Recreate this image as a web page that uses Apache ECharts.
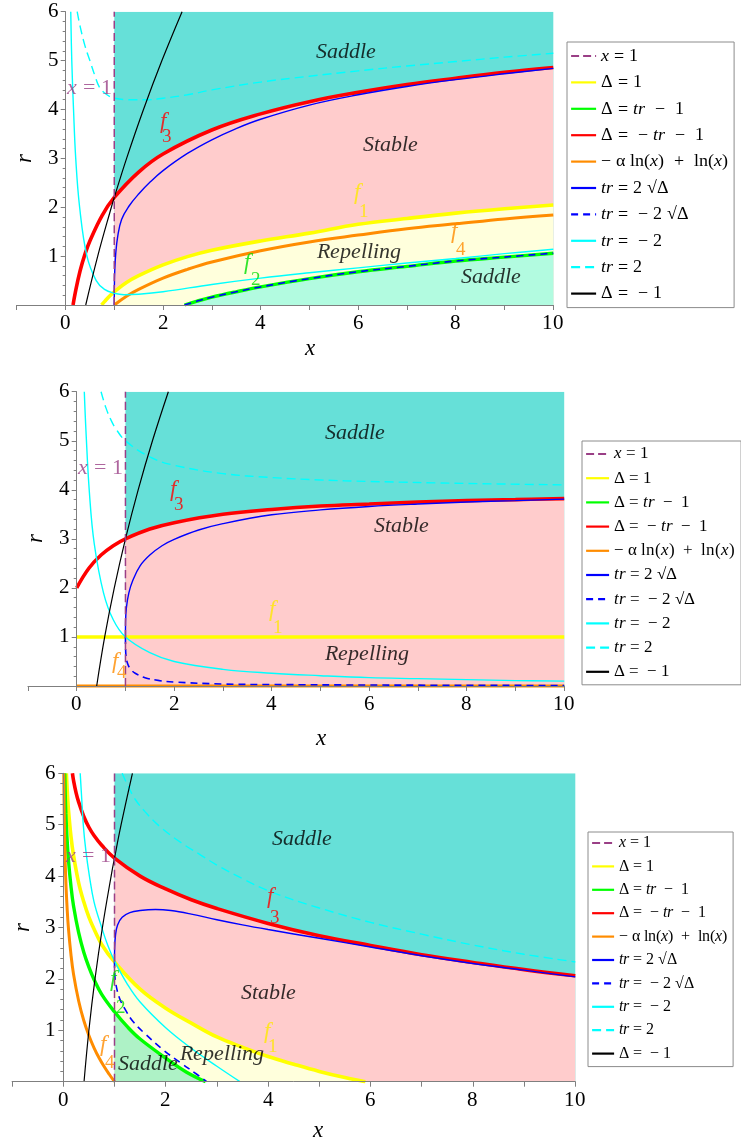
<!DOCTYPE html>
<html>
<head>
<meta charset="utf-8">
<script src="https://cdn.jsdelivr.net/npm/echarts@6/dist/echarts.min.js"></script>
<style>
  @font-face { font-family: 'PlotSerif'; font-style: normal; font-weight: normal;
               src: local('Liberation Serif'), local('LiberationSerif'), local('Times New Roman'), local('DejaVu Serif'); }
  @font-face { font-family: 'PlotSerif'; font-style: italic; font-weight: normal;
               src: local('Liberation Serif Italic'), local('LiberationSerif-Italic'), local('Times New Roman Italic'), local('DejaVu Serif Italic'); }
  html, body { margin: 0; padding: 0; background: #ffffff; }
  #chart { width: 741px; height: 1141px; }
</style>
</head>
<body>
<div id="chart"></div>
<script>
// ---------- tick labels ----------
const xTickLabels = ['0', '2', '4', '6', '8', '10'];
const yTickLabels = ['1', '2', '3', '4', '5', '6'];

// ---------- legend entries ----------
const legendNames = [
  'x = 1', 'Δ = 1', 'Δ = tr − 1', 'Δ = −tr − 1', '−α ln(x) + ln(x)',
  'tr = 2 √Δ', 'tr = −2 √Δ', 'tr = −2', 'tr = 2', 'Δ = −1'
];

// ---------- panel 1 (α = 0.2): curves as [x, r] ----------
const p1Line1   = [[1, 0], [1, 6]];
const p1Yellow  = [[0.74, 0], [0.8, 0.07], [0.9, 0.18], [1, 0.27], [1.25, 0.46], [1.5, 0.6], [2, 0.82], [2.5, 0.99], [3, 1.12], [4, 1.31], [5, 1.47], [6, 1.65], [7, 1.77], [8, 1.88], [9, 1.97], [10, 2.045]];
const p1Green   = [[2.44, 0], [2.7, 0.08], [3, 0.16], [3.5, 0.27], [4, 0.37], [5, 0.54], [6, 0.68], [7, 0.79], [8, 0.9], [9, 0.98], [10, 1.06]];
const p1Red     = [[0.155, 0], [0.2, 0.25], [0.3, 0.7], [0.4, 1.04], [0.5, 1.31], [0.75, 1.83], [1, 2.2], [1.5, 2.72], [2, 3.09], [3, 3.58], [4, 3.91], [5, 4.16], [6, 4.35], [7, 4.51], [8, 4.64], [9, 4.76], [10, 4.86]];
const p1Orange  = [[1, 0], [1.25, 0.18], [1.5, 0.32], [2, 0.55], [2.5, 0.73], [3, 0.88], [4, 1.11], [5, 1.29], [6, 1.43], [7, 1.56], [8, 1.66], [9, 1.76], [10, 1.84]];
const p1Blue    = [[1, 0], [1.002, 0.35], [1.01, 0.7], [1.03, 1.05], [1.07, 1.4], [1.15, 1.75], [1.3, 2.02], [1.5, 2.27], [1.75, 2.53], [2, 2.75], [2.5, 3.1], [3, 3.38], [3.5, 3.61], [4, 3.8], [5, 4.09], [6, 4.3], [7, 4.47], [8, 4.61], [9, 4.73], [10, 4.84]];
const p1BlueDash = [[2.44, 0], [2.7, 0.08], [3, 0.16], [3.5, 0.27], [4, 0.37], [5, 0.54], [6, 0.68], [7, 0.79], [8, 0.9], [9, 0.98], [10, 1.06]];
const p1Cyan    = [[0.108, 6], [0.129, 5], [0.165, 4], [0.21, 3], [0.29, 2], [0.44, 1], [0.63, 0.5], [0.8, 0.32], [1, 0.24], [1.2, 0.21], [1.5, 0.22], [2, 0.27], [3, 0.42], [4, 0.55], [5, 0.66], [6, 0.76], [7, 0.86], [8, 0.95], [9, 1.05], [10, 1.14]];
const p1CyanDash = [[0.24, 6], [0.3, 5.7], [0.4, 5.3], [0.5, 5.0], [0.6, 4.7], [0.7, 4.45], [0.85, 4.3], [1, 4.23], [1.3, 4.2], [1.7, 4.2], [2, 4.23], [2.5, 4.3], [3, 4.4], [4, 4.56], [5, 4.68], [6, 4.79], [7, 4.89], [8, 4.98], [9, 5.07], [10, 5.15]];
const p1Black   = [[0.415, 0], [0.661, 1], [0.94, 2], [1.0, 2.2], [1.253, 3], [1.599, 4], [1.977, 5], [2.39, 6]];
const p1Top     = [[1, 6], [10, 6]];

// ---------- panel 2 (α = 1) ----------
const p2Line1   = [[1, 0], [1, 6]];
const p2Yellow  = [[0, 1], [10, 1]];
const p2Green   = [[0, 0], [10, 0]];
const p2Red     = [[0, 2], [0.25, 2.4], [0.5, 2.67], [0.75, 2.86], [1, 3], [1.5, 3.2], [2, 3.33], [3, 3.5], [4, 3.6], [5, 3.67], [6, 3.71], [7, 3.75], [8, 3.78], [9, 3.8], [10, 3.82]];
const p2Orange  = [[0, 0], [10, 0]];
const p2Blue    = [[1, 1], [1.002, 1.3], [1.02, 1.6], [1.07, 1.9], [1.15, 2.15], [1.3, 2.45], [1.5, 2.67], [1.75, 2.86], [2, 2.99], [2.5, 3.18], [3, 3.31], [4, 3.49], [5, 3.59], [6, 3.66], [7, 3.71], [8, 3.75], [9, 3.78], [10, 3.81]];
const p2BlueDash = [[1, 1], [1.002, 0.8], [1.01, 0.62], [1.04, 0.47], [1.1, 0.35], [1.2, 0.26], [1.4, 0.17], [1.7, 0.11], [2, 0.08], [3, 0.04], [4, 0.03], [6, 0.02], [10, 0.01]];
const p2Cyan    = [[0.156, 6], [0.19, 5.2], [0.26, 3.95], [0.36, 2.9], [0.55, 1.9], [0.75, 1.35], [1, 1], [1.5, 0.68], [2, 0.5], [3, 0.34], [4, 0.26], [5, 0.21], [6, 0.17], [7, 0.15], [8, 0.13], [9, 0.11], [10, 0.1]];
const p2CyanDash = [[0.5, 6], [0.6, 5.67], [0.7, 5.43], [0.8, 5.25], [1, 5], [1.5, 4.67], [2, 4.5], [3, 4.33], [4, 4.25], [5, 4.2], [6, 4.17], [8, 4.13], [10, 4.1]];
const p2Black   = [[0.41, 0], [0.574, 1], [0.771, 2], [1.0, 3], [1.261, 4], [1.554, 5], [1.88, 6]];
const p2Top     = [[1, 6], [10, 6]];

// ---------- panel 3 (α ≈ 2.3) ----------
const p3Line1   = [[1, 0], [1, 6]];
const p3Yellow  = [[0.06, 6.0], [0.08, 5.6], [0.1, 5.3], [0.15, 4.77], [0.2, 4.4], [0.3, 3.87], [0.4, 3.5], [0.5, 3.2], [0.6, 2.97], [0.75, 2.67], [1, 2.33], [1.5, 1.8], [2, 1.43], [2.5, 1.14], [3, 0.87], [3.5, 0.67], [4, 0.49], [4.5, 0.34], [5, 0.2], [5.5, 0.08], [5.9, 0]];
const p3Green   = [[0.029, 6], [0.04, 5.51], [0.05, 5.22], [0.07, 4.79], [0.1, 4.32], [0.15, 3.8], [0.2, 3.42], [0.3, 2.9], [0.4, 2.52], [0.5, 2.23], [0.6, 1.99], [0.75, 1.7], [1, 1.36], [1.25, 1.07], [1.5, 0.83], [2, 0.46], [2.4, 0.19], [2.78, 0]];
const p3Red     = [[0.178, 6], [0.2, 5.86], [0.25, 5.62], [0.3, 5.44], [0.4, 5.16], [0.5, 4.95], [0.6, 4.79], [0.75, 4.6], [1, 4.35], [1.5, 4.0], [2, 3.75], [2.5, 3.54], [3, 3.37], [4, 3.08], [5, 2.84], [6, 2.65], [7, 2.47], [8, 2.32], [9, 2.18], [10, 2.06]];
const p3Orange  = [[0.01, 6.0], [0.015, 5.46], [0.02, 5.09], [0.03, 4.56], [0.05, 3.89], [0.075, 3.37], [0.1, 2.99], [0.15, 2.47], [0.2, 2.09], [0.3, 1.57], [0.4, 1.19], [0.5, 0.9], [0.6, 0.66], [0.7, 0.46], [0.8, 0.29], [0.9, 0.14], [1, 0]];
const p3Blue    = [[1, 2.35], [1.003, 2.6], [1.02, 2.85], [1.06, 3.05], [1.15, 3.2], [1.3, 3.29], [1.5, 3.33], [1.8, 3.35], [2.1, 3.33], [2.5, 3.26], [3, 3.15], [3.5, 3.05], [4, 2.96], [5, 2.79], [6, 2.62], [7, 2.45], [8, 2.3], [9, 2.17], [10, 2.04]];
const p3BlueDash = [[1, 2.35], [1.005, 2.1], [1.03, 1.88], [1.1, 1.62], [1.2, 1.42], [1.37, 1.16], [1.6, 0.93], [1.95, 0.62], [2.3, 0.36], [2.6, 0.15], [2.8, 0]];
const p3Cyan    = [[0.33, 6], [0.36, 5.5], [0.39, 5.0], [0.44, 4.5], [0.51, 4.0], [0.6, 3.5], [0.75, 3.0], [0.87, 2.65], [1, 2.35], [1.25, 1.9], [1.5, 1.55], [2, 1.05], [2.5, 0.65], [3, 0.3], [3.45, 0]];
const p3CyanDash = [[1.15, 6.0], [1.25, 5.78], [1.4, 5.5], [1.6, 5.25], [1.89, 4.96], [2.3, 4.65], [2.7, 4.4], [3.06, 4.18], [3.5, 3.95], [4.04, 3.7], [5, 3.38], [6, 3.1], [7, 2.87], [8, 2.66], [9, 2.48], [10, 2.33]];
const p3Black   = [[0.405, 0], [0.5, 1], [0.619, 2], [0.764, 3], [0.934, 4], [1.0, 4.35], [1.129, 5], [1.35, 6]];
const p3Top     = [[1, 6], [10, 6]];

// ---------- annotations: [x, r, text] and subscripted curve tags ----------
const p1Regions = [[5.75, 5.17, 'Saddle'], [6.67, 3.27, 'Stable'], [6.02, 1.08, 'Repelling'], [8.72, 0.57, 'Saddle']];
const p1Tags = [['3', 1.99, 3.74, 2.09, 3.44], ['1', 5.98, 2.29, 6.12, 1.9], ['4', 7.96, 1.49, 8.1, 1.12], ['2', 3.73, 0.86, 3.91, 0.51]];
const p1LineTag = [0.49, 4.44];

const p2Regions = [[5.71, 5.16, 'Saddle'], [6.67, 3.25, 'Stable'], [5.95, 0.65, 'Repelling']];
const p2Tags = [['3', 1.98, 4.0, 2.1, 3.69], ['1', 4.0, 1.55, 4.12, 1.18], ['4', 0.79, 0.5, 0.92, 0.26]];
const p2LineTag = [0.48, 4.44];

const p3Regions = [[4.66, 4.72, 'Saddle'], [4.0, 1.73, 'Stable'], [3.09, 0.54, 'Repelling'], [1.66, 0.34, 'Saddle']];
const p3Tags = [['3', 4.04, 3.59, 4.13, 3.18], ['1', 3.97, 0.97, 4.1, 0.68], ['2', 0.98, 1.98, 1.12, 1.43], ['4', 0.78, 0.71, 0.91, 0.36]];
const p3LineTag = [0.49, 4.39];

// ---------- styling ----------
const SERIF = 'PlotSerif, Liberation Serif, Times New Roman, serif';
const COL = {
  line1: '#9a3f86', yellow: '#ffff00', green: '#00ff00', red: '#ff0000', orange: '#ff8c00',
  blue: '#0000ff', cyan: '#00ffff', black: '#000000',
  saddle: '#66e0d8', stable: '#ffcccc', repel: '#ffffdc'
};
const tagColor = { '1': '#ffe800', '2': '#00dd00', '3': '#ff0000', '4': '#ff8c00' };

const panels = [
  {
    box: { left: 16.7, top: 11.7, width: 536.6, height: 293.3 }, yOffset: -49,
    xNameGap: 32, yNameGap: 29,
    legend: { left: 567, top: 42, padding: [4, 6, 4, 3], itemWidth: 25, itemGap: 6.4, fontSize: 18, lineHeight: 20 },
    curves: { line1: p1Line1, yellow: p1Yellow, green: p1Green, red: p1Red, orange: p1Orange, blue: p1Blue, blueDash: p1BlueDash, cyan: p1Cyan, cyanDash: p1CyanDash, black: p1Black },
    top: p1Top, lowSaddle: '#b2fbe0', regions: p1Regions, tags: p1Tags, lineTag: p1LineTag
  },
  {
    box: { left: 27.95, top: 391.7, width: 536.25, height: 294.3 }, yOffset: -48.75,
    xNameGap: 41, yNameGap: 29,
    legend: { left: 582, top: 441, padding: [4, 6, 4, 3], itemWidth: 23, itemGap: 6.2, fontSize: 16.5, lineHeight: 18 },
    curves: { line1: p2Line1, yellow: p2Yellow, green: p2Green, red: p2Red, orange: p2Orange, blue: p2Blue, blueDash: p2BlueDash, cyan: p2Cyan, cyanDash: p2CyanDash, black: p2Black },
    top: p2Top, lowSaddle: '#b2fbe0', regions: p2Regions, tags: p2Tags, lineTag: p2LineTag
  },
  {
    box: { left: 12.1, top: 773.3, width: 563.2, height: 308.4 }, yOffset: -51.2,
    xNameGap: 38, yNameGap: 29,
    legend: { left: 588, top: 832, padding: [2, 6, 4, 3], itemWidth: 22, itemGap: 5.4, fontSize: 16, lineHeight: 18 },
    curves: { line1: p3Line1, yellow: p3Yellow, green: p3Green, red: p3Red, orange: p3Orange, blue: p3Blue, blueDash: p3BlueDash, cyan: p3Cyan, cyanDash: p3CyanDash, black: p3Black },
    top: p3Top, lowSaddle: '#aef2c6', regions: p3Regions, tags: p3Tags, lineTag: p3LineTag
  }
];

// which legend entry each curve belongs to, with its stroke
const curveStyle = {
  yellow:   { name: legendNames[1], color: COL.yellow, width: 3.6, dash: 'solid', z: 3 },
  green:    { name: legendNames[2], color: COL.green,  width: 3.4, dash: 'solid', z: 3 },
  orange:   { name: legendNames[4], color: COL.orange, width: 3.0, dash: 'solid', z: 3 },
  red:      { name: legendNames[3], color: COL.red,    width: 3.6, dash: 'solid', z: 4 },
  blue:     { name: legendNames[5], color: COL.blue,   width: 1.4, dash: 'solid', z: 5 },
  blueDash: { name: legendNames[6], color: COL.blue,   width: 1.6, dash: [7, 5],  z: 5 },
  cyan:     { name: legendNames[7], color: COL.cyan,   width: 1.4, dash: 'solid', z: 5 },
  cyanDash: { name: legendNames[8], color: COL.cyan,   width: 1.4, dash: [9, 5],  z: 5 },
  black:    { name: legendNames[9], color: COL.black,  width: 1.2, dash: 'solid', z: 6 },
  line1:    { name: legendNames[0], color: COL.line1,  width: 1.5, dash: [8, 4],  z: 6 }
};
const drawOrder = ['yellow', 'green', 'orange', 'red', 'blue', 'blueDash', 'cyan', 'cyanDash', 'black', 'line1'];

// rich text for the legend labels
const legendRich = {
  'x = 1': '{i|x}{n| = 1}',
  'Δ = 1': '{n|Δ = 1}',
  'Δ = tr − 1': '{n|Δ = }{i|tr}{n|  −  1}',
  'Δ = −tr − 1': '{n|Δ =  − }{i|tr}{n|  −  1}',
  '−α ln(x) + ln(x)': '{n|− α ln(}{i|x}{n|)  +  ln(}{i|x}{n|)}',
  'tr = 2 √Δ': '{i|tr}{n| = 2 √Δ}',
  'tr = −2 √Δ': '{i|tr}{n| =  − 2 √Δ}',
  'tr = −2': '{i|tr}{n| =  − 2}',
  'tr = 2': '{i|tr}{n| = 2}',
  'Δ = −1': '{n|Δ =  − 1}'
};

const upTo1 = (arr) => arr.filter(p => p[0] >= 1);
const SMOOTH = 0.4;

function buildOption() {
  const grid = [], xAxis = [], yAxis = [], legend = [], series = [];

  panels.forEach((P, gi) => {
    grid.push(Object.assign({ outerBoundsMode: 'none', containLabel: false }, P.box));

    xAxis.push({
      gridIndex: gi, type: 'value', min: -1, max: 10, interval: 1, z: 20,
      axisLine: { onZero: false, lineStyle: { color: '#7f7f7f', width: 1 } },
      axisTick: { show: true, length: 5, lineStyle: { color: '#7f7f7f' } },
      splitLine: { show: false },
      axisLabel: {
        color: '#000', fontFamily: SERIF, fontSize: 21, margin: 8,
        formatter: (v) => (xTickLabels.indexOf(String(v)) >= 0 ? String(v) : '')
      },
      name: 'x', nameLocation: 'middle', nameGap: P.xNameGap,
      nameTextStyle: { fontFamily: SERIF, fontStyle: 'italic', fontSize: 23, color: '#000', padding: [0, 0, 0, 49] }
    });

    // the vertical axis sits on x = 0, shifted in from the grid's left edge
    yAxis.push({
      gridIndex: gi, type: 'value', min: 0, max: 6, interval: 1, z: 20,
      offset: P.yOffset,
      axisLine: { onZero: false, lineStyle: { color: '#7f7f7f', width: 1 } },
      axisTick: { show: true, length: 5, lineStyle: { color: '#7f7f7f' } },
      minorTick: { show: true, splitNumber: 5, length: 3, lineStyle: { color: '#7f7f7f' } },
      splitLine: { show: false },
      axisLabel: {
        color: '#000', fontFamily: SERIF, fontSize: 21, margin: 7,
        formatter: (v) => (yTickLabels.indexOf(String(v)) >= 0 ? String(v) : '')
      },
      name: 'r', nameLocation: 'middle', nameGap: P.yNameGap, nameRotate: 90,
      nameTextStyle: { fontFamily: SERIF, fontStyle: 'italic', fontSize: 23, color: '#000' }
    });

    const L = P.legend;
    legend.push({
      data: legendNames, orient: 'vertical', left: L.left, top: L.top, padding: L.padding,
      itemWidth: L.itemWidth, itemHeight: 12, itemGap: L.itemGap,
      backgroundColor: '#ffffff', borderColor: '#8c8c8c', borderWidth: 1, borderRadius: 0,
      selectedMode: false, inactiveColor: '#000',
      lineStyle: { width: 2.2 },
      itemStyle: { opacity: 0 },
      formatter: (name) => legendRich[name] || name,
      textStyle: {
        color: '#000', fontFamily: SERIF, fontSize: L.fontSize, lineHeight: L.lineHeight,
        rich: {
          n: { fontFamily: SERIF, fontSize: L.fontSize, lineHeight: L.lineHeight, color: '#000' },
          i: { fontFamily: SERIF, fontSize: L.fontSize, lineHeight: L.lineHeight, fontStyle: 'italic', color: '#000' }
        }
      }
    });

    // region fills, painted from the top band down
    const fillBase = { type: 'line', xAxisIndex: gi, yAxisIndex: gi, symbol: 'none', showSymbol: false,
      smooth: SMOOTH, lineStyle: { width: 0, opacity: 0 }, silent: true, animation: false };
    series.push(Object.assign({}, fillBase, { data: P.top, areaStyle: { color: COL.saddle, opacity: 1 }, z: 1 }));
    series.push(Object.assign({}, fillBase, { data: upTo1(P.curves.red), areaStyle: { color: COL.stable, opacity: 1 }, z: 1 }));
    series.push(Object.assign({}, fillBase, { data: upTo1(P.curves.yellow), areaStyle: { color: COL.repel, opacity: 1 }, z: 1 }));
    if (gi !== 1) {
      series.push(Object.assign({}, fillBase, { data: upTo1(P.curves.green), areaStyle: { color: P.lowSaddle, opacity: 1 }, z: 1 }));
    }

    // curves
    drawOrder.forEach((key) => {
      const s = curveStyle[key];
      const flat = gi === 1 && (key === 'orange' || key === 'green');
      const width = (gi === 1 && key === 'green') ? 2 : s.width;
      series.push({
        type: 'line', name: s.name, xAxisIndex: gi, yAxisIndex: gi, data: P.curves[key],
        symbol: 'none', showSymbol: false, smooth: SMOOTH,
        clip: !flat,
        lineStyle: { color: s.color, width: width, type: s.dash },
        itemStyle: { color: s.color },
        z: s.z, silent: true, animation: false
      });
    });

    // text annotations
    const notes = [];
    P.regions.forEach(([x, r, text]) => notes.push({
      value: [x, r],
      label: { show: true, position: 'inside', formatter: text, fontFamily: SERIF, fontStyle: 'italic', fontSize: 22, color: '#000' }
    }));
    P.tags.forEach(([k, fx, fr, sx, sr]) => {
      notes.push({ value: [fx, fr], label: { show: true, position: 'inside', formatter: 'f', fontFamily: SERIF, fontStyle: 'italic', fontSize: 23, color: tagColor[k] } });
      notes.push({ value: [sx, sr], label: { show: true, position: 'inside', formatter: k, fontFamily: SERIF, fontSize: 19, color: tagColor[k] } });
    });
    notes.push({
      value: P.lineTag,
      label: { show: true, position: 'inside', formatter: '{i|x}{n| = 1}', color: COL.line1,
        rich: { i: { fontFamily: SERIF, fontStyle: 'italic', fontSize: 22, color: COL.line1 },
                n: { fontFamily: SERIF, fontSize: 22, color: COL.line1 } } }
    });
    series.push({ type: 'scatter', xAxisIndex: gi, yAxisIndex: gi, symbolSize: 0, data: notes, z: 10, silent: true, animation: false, clip: false });
  });

  return { animation: false, backgroundColor: '#ffffff', grid, xAxis, yAxis, legend, series };
}

const chart = echarts.init(document.getElementById('chart'), null, { renderer: 'canvas', width: 741, height: 1141 });
chart.setOption(buildOption());

// redraw once the serif faces are resolved so canvas text uses them
if (document.fonts && document.fonts.load) {
  Promise.all([
    document.fonts.load('21px PlotSerif'),
    document.fonts.load('italic 21px PlotSerif')
  ]).then(() => { chart.setOption(buildOption(), true); }).catch(() => {});
}
</script>
</body>
</html>
